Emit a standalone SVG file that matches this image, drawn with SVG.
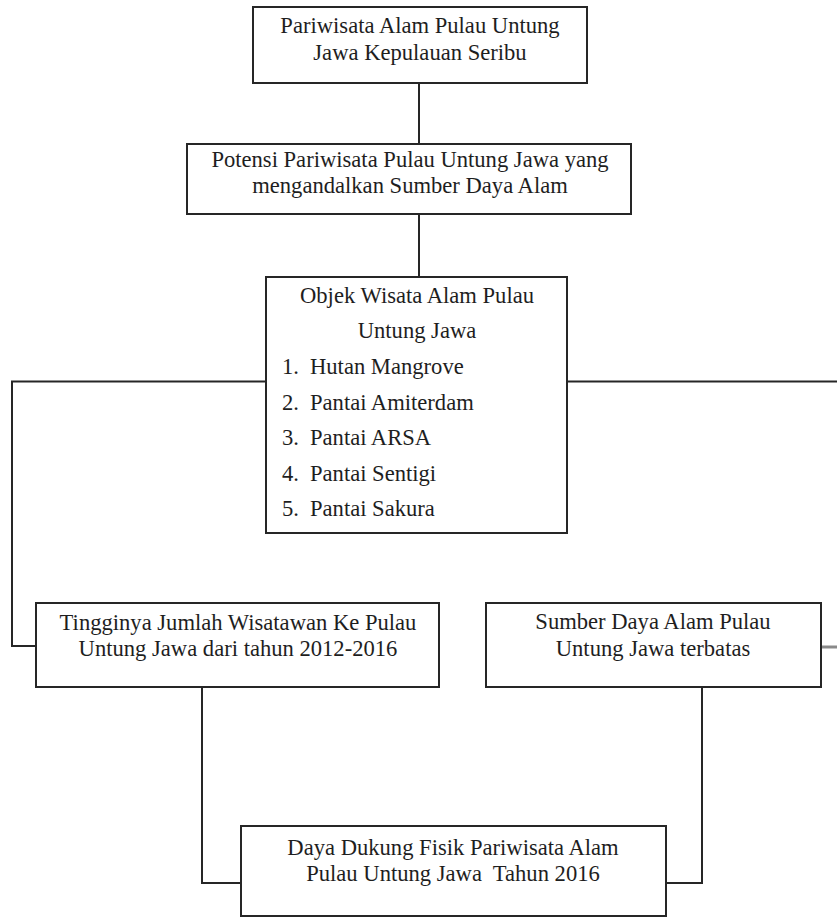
<svg xmlns="http://www.w3.org/2000/svg" width="837" height="917" viewBox="0 0 837 917">
<style>
  .box { fill: #fff; stroke: #262626; stroke-width: 2; }
  .conn { fill: none; stroke: #262626; stroke-width: 2; }
  .grey { fill: none; stroke: #8a8a8a; stroke-width: 3; }
  .t { font-size: 22.6px; fill: #1e1e1e; }
  .c { text-anchor: middle; }
  .pre { white-space: pre; }
</style>
<rect width="837" height="917" fill="#fff"/>
<g id="connectors">
  <path class="conn" d="M419,83 V144"/>
  <path class="conn" d="M419,214 V277"/>
  <path class="conn" d="M266,381.5 H12 V646 H36"/>
  <path class="conn" d="M567,381.5 H837"/>
  <path class="grey" d="M821,647 H837"/>
  <path class="conn" d="M202,687 V883 H241"/>
  <path class="conn" d="M702,687 V883 H666"/>
</g>
<g id="node-pariwisata" class="t" font-family="Liberation Serif, serif">
  <rect class="box" x="253" y="7" width="334" height="76"/>
  <text class="c" x="420" y="33">Pariwisata Alam Pulau Untung</text>
  <text class="c" x="420" y="60">Jawa Kepulauan Seribu</text>
</g>
<g id="node-potensi" class="t" font-family="Liberation Serif, serif">
  <rect class="box" x="187" y="144" width="444" height="70"/>
  <text class="c" x="410" y="167">Potensi Pariwisata Pulau Untung Jawa yang</text>
  <text class="c" x="410" y="193">mengandalkan Sumber Daya Alam</text>
</g>
<g id="node-objek" class="t" font-family="Liberation Serif, serif">
  <rect class="box" x="266" y="277" width="301" height="256"/>
  <text class="c" x="417" y="303">Objek Wisata Alam Pulau</text>
  <text class="c" x="417" y="338">Untung Jawa</text>
  <text x="282" y="374">1.</text><text x="310" y="374">Hutan Mangrove</text>
  <text x="282" y="409.5">2.</text><text x="310" y="409.5">Pantai Amiterdam</text>
  <text x="282" y="445">3.</text><text x="310" y="445">Pantai ARSA</text>
  <text x="282" y="480.5">4.</text><text x="310" y="480.5">Pantai Sentigi</text>
  <text x="282" y="516">5.</text><text x="310" y="516">Pantai Sakura</text>
</g>
<g id="node-tingginya" class="t" font-family="Liberation Serif, serif">
  <rect class="box" x="36" y="603" width="403" height="84"/>
  <text class="c" x="238" y="630">Tingginya Jumlah Wisatawan Ke Pulau</text>
  <text class="c" x="238" y="656">Untung Jawa dari tahun 2012-2016</text>
</g>
<g id="node-sumber" class="t" font-family="Liberation Serif, serif">
  <rect class="box" x="486" y="603" width="335" height="84"/>
  <text class="c" x="653" y="629">Sumber Daya Alam Pulau</text>
  <text class="c" x="653" y="656">Untung Jawa terbatas</text>
</g>
<g id="node-dayadukung" class="t" font-family="Liberation Serif, serif">
  <rect class="box" x="241" y="826" width="425" height="90"/>
  <text class="c" x="453" y="855">Daya Dukung Fisik Pariwisata Alam</text>
  <text class="c pre" x="453" y="881">Pulau Untung Jawa  Tahun 2016</text>
</g>
</svg>
